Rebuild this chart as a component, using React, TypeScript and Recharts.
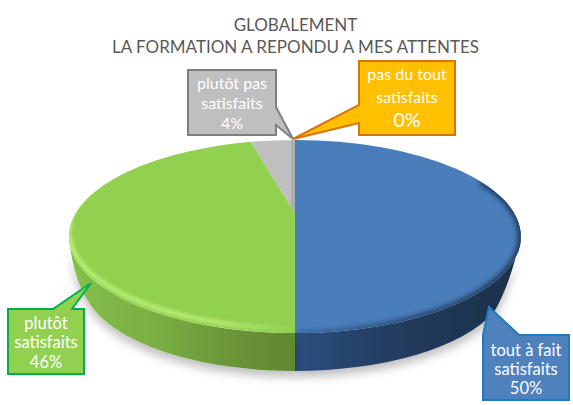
import React from 'react'
import { PieChart, Pie, Cell } from 'recharts'

const categories = ['tout à fait satisfaits', 'plutôt satisfaits', 'plutôt pas satisfaits', 'pas du tout satisfaits']
const labelLines = [['tout à fait', 'satisfaits'], ['plutôt', 'satisfaits'], ['plutôt pas', 'satisfaits'], ['pas du tout', 'satisfaits']]
const values = [50, 46, 4, 0]
const colors = ['#4a7ebb', '#92d050', '#bfbfbf', '#ffc000']
const titleLines = ['GLOBALEMENT', 'LA FORMATION A REPONDU A MES ATTENTES']

const data = categories.map((name, i) => ({ name, value: values[i] }))

// layout of the "3D" look: the disc is an ellipse seen in perspective,
// so its centre sits above the middle of the ellipse
const SQUASH = 0.427
const PERSPECTIVE = 0.243
const CX = 295
const CY = 236.5
const RADIUS = 226
// lower edge of the wall is a slightly smaller ellipse
const FOOT_RX = 212
const FOOT_RY = 90
const FOOT_DY = 44.5

// callout boxes: x, y, w, h, tip, the two points where the pointer leaves the box,
// first = centre of first text line below the box top, gap = line spacing
const callouts = [
  { x: 483, y: 335, w: 86, h: 65, tip: [489, 307], base: [[483, 335], [519, 335]], fill: '#4f81bd', stroke: '#1f7ac0', fs: 16.5, first: 15, gap: 19 },
  { x: 8, y: 309, w: 76, h: 65, tip: [91, 283], base: [[53, 309], [72, 309]], fill: '#92d050', stroke: '#00b050', fs: 16.5, first: 14, gap: 19.5 },
  { x: 188, y: 70, w: 88, h: 65, tip: [293, 139], base: [[276, 107], [276, 125]], fill: '#bfbfbf', stroke: '#7f7f7f', fs: 16, first: 13, gap: 20 },
  { x: 359, y: 61, w: 96, h: 74, tip: [293, 139], base: [[359, 105], [359, 123]], fill: '#ffc000', stroke: '#d9730d', fs: 16, first: 13, gap: 23.5 },
]

// slice angle on the disc -> angle on the drawn ellipse
const ellipseAngle = (deg: number) => {
  const a = (deg * Math.PI) / 180
  const w = 1 + PERSPECTIVE * Math.sin(a)
  const x = (Math.cos(a) * Math.sqrt(1 - PERSPECTIVE * PERSPECTIVE)) / w
  const y = (Math.sin(a) + PERSPECTIVE) / w
  let phi = (Math.atan2(y, x) * 180) / Math.PI
  while (phi - deg > 180) phi -= 360
  while (phi - deg < -180) phi += 360
  return phi
}

const pt = (cx: number, cy: number, r: number, phi: number, dy = 0) => {
  const a = (phi * Math.PI) / 180
  return [cx + r * Math.cos(a), cy - r * SQUASH * Math.sin(a) + dy]
}

const arcTo = (p: number[], r: number, large: boolean, sweep: number) =>
  `A${r},${r * SQUASH} 0 ${large ? 1 : 0} ${sweep} ${p[0]},${p[1]}`

// top face of a slice
const TopSlice = (props: any) => {
  const { cx, cy, outerRadius: r, startAngle, endAngle, fill, index } = props
  if (Math.abs(startAngle - endAngle) < 0.01) return <g />
  const p0 = ellipseAngle(startAngle)
  const p1 = ellipseAngle(endAngle)
  const a = pt(cx, cy, r, p0)
  const b = pt(cx, cy, r, p1)
  const apex = [cx, cy - r * SQUASH * PERSPECTIVE]
  const d = `M${apex[0]},${apex[1]}L${a[0]},${a[1]}${arcTo(b, r, Math.abs(p0 - p1) > 180, 1)}Z`

  // soft bevel along the front of the rim
  const r0 = Math.min(p0, index === 0 ? 35 : 0)
  const r1 = Math.max(p1, -205)
  const ra = pt(cx, cy, r, r0, index === 0 ? 0 : -5)
  const rb = pt(cx, cy, r, r1, index === 0 ? 0 : -5)
  const rim = `M${ra[0]},${ra[1]}${arcTo(rb, r, false, 1)}`
  const rimStops =
    index === 0
      ? [['0%', '#3c6da8'], ['55%', '#244268'], ['100%', '#1c3350']]
      : [['0%', '#b4ec72'], ['70%', '#b0e86e'], ['100%', '#92d050']]

  return (
    <g>
      <defs>
        <filter id={`rimBlur${index}`} x="0" y="0" width="573" height="405" filterUnits="userSpaceOnUse">
          <feGaussianBlur stdDeviation={index === 0 ? 2.4 : 1.6} />
        </filter>
        <clipPath id={`faceClip${index}`}>
          <path d={d} />
        </clipPath>
        <linearGradient id={`rimGrad${index}`} x1={index === 0 ? cx : cx - r} x2={index === 0 ? cx + r : cx} y1={0} y2={0} gradientUnits="userSpaceOnUse">
          {rimStops.map(([o, c2]) => <stop key={o} offset={o} stopColor={c2} />)}
        </linearGradient>
      </defs>
      <path d={d} fill={fill} />
      <g clipPath={`url(#faceClip${index})`}>
        {index < 2 && (
          <path d={rim} fill="none" stroke={`url(#rimGrad${index})`} strokeWidth={index === 0 ? 6 : 5} filter={`url(#rimBlur${index})`} />
        )}
        {index === 2 && <line x1={cx - 2} y1={cy - r * SQUASH} x2={cx - 2} y2={apex[1]} stroke="#adadad" strokeWidth={4} />}
      </g>
    </g>
  )
}

// outer wall, only the part of the arc facing the viewer
const SideSlice = (props: any) => {
  const { cx, cy, outerRadius: r, startAngle, endAngle, index } = props
  const from = Math.min(ellipseAngle(startAngle), 0)
  const to = Math.max(ellipseAngle(endAngle), -180)
  if (from <= to) return <g />
  const foot = (phi: number) => {
    const t = (phi * Math.PI) / 180
    return [cx + FOOT_RX * Math.cos(t), cy + FOOT_DY - FOOT_RY * Math.sin(t)]
  }
  const a = pt(cx, cy, r, from)
  const b = pt(cx, cy, r, to)
  // the wall curves in from the widest point of the top face down to the foot
  const footFrom = foot(from === 0 ? -20 : from)
  const footTo = foot(to === -180 ? -160 : to)
  const ctrlY = cy + FOOT_DY + 4
  let d = `M${a[0]},${a[1]}${arcTo(b, r, false, 1)}`
  d += to === -180 ? `Q${b[0] + 4},${ctrlY} ${footTo[0]},${footTo[1]}` : `L${footTo[0]},${footTo[1]}`
  d += `A${FOOT_RX},${FOOT_RY} 0 0 0 ${footFrom[0]},${footFrom[1]}`
  d += from === 0 ? `Q${a[0] - 11},${ctrlY} ${a[0]},${a[1]}Z` : 'Z'
  const stops =
    index === 0
      ? [['0%', '#2c4f7e'], ['35%', '#243f64'], ['75%', '#1e3552'], ['100%', '#1c3049']]
      : [['0%', '#86c04c'], ['40%', '#79ad43'], ['80%', '#678f36'], ['100%', '#5f8a2f']]
  return (
    <g>
      <defs>
        <linearGradient id={`wall${index}`} x1={index === 0 ? cx : cx - r} x2={index === 0 ? cx + r : cx} y1={0} y2={0} gradientUnits="userSpaceOnUse">
          {stops.map(([o, c2]) => <stop key={o} offset={o} stopColor={c2} />)}
        </linearGradient>
        <filter id={`wallShadow${index}`} x="0" y="0" width="573" height="405" filterUnits="userSpaceOnUse">
          <feDropShadow dx="0" dy="6" stdDeviation="5" floodColor="#000" floodOpacity="0.25" />
        </filter>
      </defs>
      <path d={d} fill={`url(#wall${index})`} filter={`url(#wallShadow${index})`} />
    </g>
  )
}

const renderCallout = (props: any) => {
  const { index, value } = props
  const c = callouts[index]
  const [p, q] = c.base
  const r = c.x + c.w
  const b = c.y + c.h
  let d = ''
  if (p[1] === c.y) {
    d = `M${c.x},${c.y}L${p[0]},${p[1]}L${c.tip[0]},${c.tip[1]}L${q[0]},${q[1]}L${r},${c.y}L${r},${b}L${c.x},${b}Z`
  } else if (p[0] === r) {
    d = `M${c.x},${c.y}L${r},${c.y}L${p[0]},${p[1]}L${c.tip[0]},${c.tip[1]}L${q[0]},${q[1]}L${r},${b}L${c.x},${b}Z`
  } else {
    d = `M${c.x},${c.y}L${r},${c.y}L${r},${b}L${c.x},${b}L${q[0]},${q[1]}L${c.tip[0]},${c.tip[1]}L${p[0]},${p[1]}Z`
  }
  const mid = c.x + c.w / 2
  const baseline = c.y + c.first + c.fs * 0.35
  return (
    <g key={index}>
      <path d={d} fill={c.fill} stroke={c.stroke} strokeWidth={2} />
      <g fill="#fff" fontFamily="Lato" fontSize={c.fs} textAnchor="middle">
        {labelLines[index].map((t, i) => (
          <text key={t} x={mid} y={baseline + c.gap * i}>{t}</text>
        ))}
        <text x={mid} y={baseline + c.gap * 2} fontSize={index === 3 ? 20 : c.fs}>{value}%</text>
      </g>
    </g>
  )
}

export default function App() {
  return (
    <div style={{ position: 'absolute', left: 0, top: 0, width: 573, height: 405, background: '#fff' }}>
      <PieChart width={573} height={405} margin={{ top: 0, right: 0, bottom: 0, left: 0 }}>
        <Pie
          data={data}
          dataKey="value"
          cx={CX}
          cy={CY}
          outerRadius={RADIUS}
          startAngle={90}
          endAngle={-270}
          stroke="none"
          shape={SideSlice}
          isAnimationActive={false}
        />
        <Pie
          data={data}
          dataKey="value"
          cx={CX}
          cy={CY}
          outerRadius={RADIUS}
          startAngle={90}
          endAngle={-270}
          stroke="none"
          shape={TopSlice}
          label={renderCallout}
          labelLine={false}
          isAnimationActive={false}
        >
          {data.map((d, i) => <Cell key={d.name} fill={colors[i]} />)}
        </Pie>
      </PieChart>
      <div style={{ position: 'absolute', left: 0, top: 14, width: 591, textAlign: 'center', fontFamily: 'Lato', fontSize: 17, lineHeight: '22px', color: '#595959' }}>
        {titleLines.map((t) => <div key={t}>{t}</div>)}
      </div>
    </div>
  )
}
